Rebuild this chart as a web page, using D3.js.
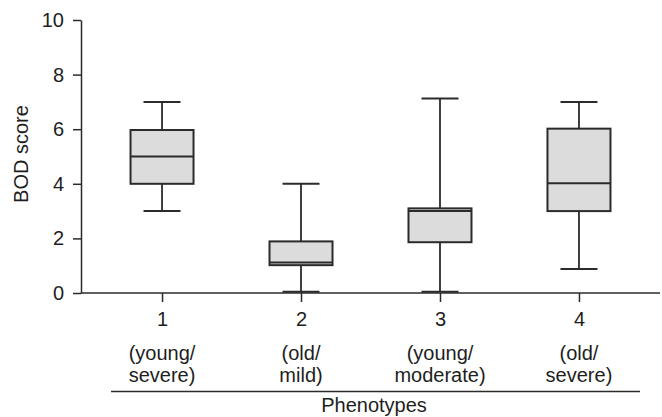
<!DOCTYPE html>
<html>
<head>
<meta charset="utf-8">
<script src="https://cdn.jsdelivr.net/npm/d3@7"></script>
<style>
  body { margin: 0; background: #fff; }
  svg text { font-family: "Liberation Sans", Arial, sans-serif; fill: #1e1e1e; }
</style>
</head>
<body>
<svg id="chart" width="662" height="417"></svg>
<script>
var categories = ["1", "2", "3", "4"];
var subLabels = [["(young/", "severe)"], ["(old/", "mild)"], ["(young/", "moderate)"], ["(old/", "severe)"]];
var whiskerLow = [3.0, 0.05, 0.05, 0.88];
var q1 = [4.0, 1.02, 1.86, 3.0];
var median = [5.0, 1.12, 3.0, 4.02];
var q3 = [5.97, 1.89, 3.1, 6.02];
var whiskerHigh = [7.0, 4.0, 7.12, 7.0];
var yTicks = [0, 2, 4, 6, 8, 10];

var svg = d3.select("svg#chart");

var x = d3.scalePoint().domain(categories).range([81, 660]).padding(0.583);
var y = d3.scaleLinear().domain([0, 10]).range([293, 20]);

var boxW = 63, capW = 37;
var ink = "#2b2b2b";

var rows = categories.map(function(c, i) {
  return {cat: c, lo: whiskerLow[i], q1: q1[i], med: median[i], q3: q3[i], hi: whiskerHigh[i]};
});

// axes
var yAxis = svg.append("g")
    .attr("transform", "translate(81,0)")
    .call(d3.axisLeft(y).tickValues(yTicks).tickSize(8).tickSizeOuter(0).tickPadding(9));
var xAxis = svg.append("g")
    .attr("transform", "translate(0,293)")
    .call(d3.axisBottom(x).tickSize(9).tickSizeOuter(0).tickPadding(10));
xAxis.select(".domain").attr("d", "M81,0H660");

[yAxis, xAxis].forEach(function(a) {
  a.selectAll("path, line").attr("stroke", ink).attr("stroke-width", 1.5);
  a.selectAll("text").attr("font-size", 20).attr("fill", "#1e1e1e")
   .style("font-family", "'Liberation Sans', Arial, sans-serif");
});

// boxes
var g = svg.selectAll(".box").data(rows).enter().append("g").attr("class", "box");

g.append("line")
  .attr("x1", function(d) { return x(d.cat); }).attr("x2", function(d) { return x(d.cat); })
  .attr("y1", function(d) { return y(d.hi); }).attr("y2", function(d) { return y(d.lo); })
  .attr("stroke", ink).attr("stroke-width", 1.8);

g.selectAll(".cap").data(function(d) { return [{c: d.cat, v: d.hi}, {c: d.cat, v: d.lo}]; })
  .enter().append("line").attr("class", "cap")
  .attr("x1", function(d) { return x(d.c) - capW / 2; }).attr("x2", function(d) { return x(d.c) + capW / 2; })
  .attr("y1", function(d) { return y(d.v); }).attr("y2", function(d) { return y(d.v); })
  .attr("stroke", ink).attr("stroke-width", 2);

g.append("rect")
  .attr("x", function(d) { return x(d.cat) - boxW / 2; })
  .attr("width", boxW)
  .attr("y", function(d) { return y(d.q3); })
  .attr("height", function(d) { return y(d.q1) - y(d.q3); })
  .attr("fill", "#dcdcdc").attr("stroke", ink).attr("stroke-width", 2);

g.append("line")
  .attr("x1", function(d) { return x(d.cat) - boxW / 2; }).attr("x2", function(d) { return x(d.cat) + boxW / 2; })
  .attr("y1", function(d) { return y(d.med); }).attr("y2", function(d) { return y(d.med); })
  .attr("stroke", ink).attr("stroke-width", 2);

// sub labels
svg.selectAll(".sub").data(categories).enter().append("text")
  .attr("class", "sub")
  .attr("text-anchor", "middle")
  .attr("font-size", 20)
  .attr("x", function(d) { return x(d); })
  .attr("y", 360)
  .each(function(d, i) {
    var t = d3.select(this);
    subLabels[i].forEach(function(s, k) {
      t.append("tspan").attr("x", x(d)).attr("dy", k === 0 ? 0 : 22).text(s);
    });
  });

svg.append("line")
  .attr("x1", 111).attr("x2", 640).attr("y1", 391.5).attr("y2", 391.5)
  .attr("stroke", ink).attr("stroke-width", 1.5);

svg.append("text")
  .attr("x", 374).attr("y", 412)
  .attr("text-anchor", "middle").attr("font-size", 20)
  .text("Phenotypes");

svg.append("text")
  .attr("transform", "translate(28,154) rotate(-90)")
  .attr("text-anchor", "middle").attr("font-size", 20)
  .text("BOD score");
</script>
</body>
</html>
